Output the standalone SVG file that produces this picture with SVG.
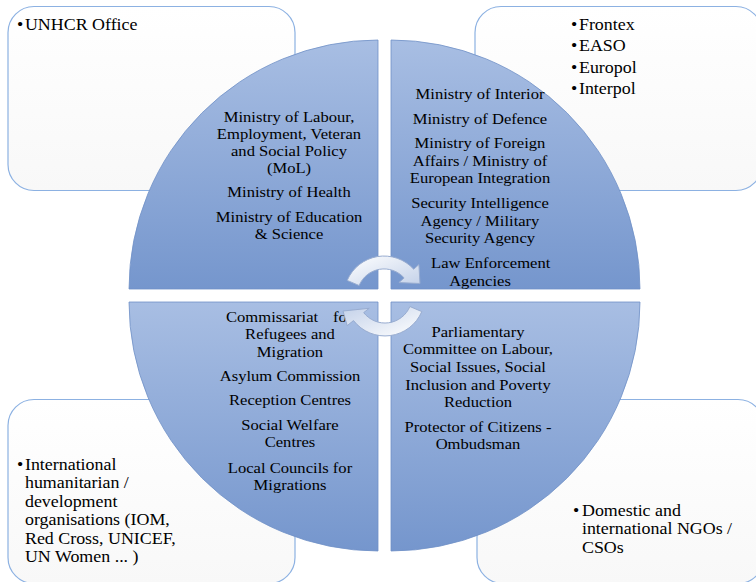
<svg xmlns="http://www.w3.org/2000/svg" width="756" height="582" viewBox="0 0 756 582">
  <defs>
    <linearGradient id="quadFill" x1="0" y1="0" x2="0" y2="1">
      <stop offset="0" stop-color="#a8bee3"/>
      <stop offset="1" stop-color="#7596cd"/>
    </linearGradient>
    <linearGradient id="boxFill" x1="0" y1="0" x2="0" y2="1">
      <stop offset="0" stop-color="#ffffff"/>
      <stop offset="1" stop-color="#f8f8f8"/>
    </linearGradient>
    <linearGradient id="arrowFill" x1="0" y1="0" x2="1" y2="1">
      <stop offset="0" stop-color="#ffffff"/>
      <stop offset="1" stop-color="#c3d1e9"/>
    </linearGradient>
  </defs>
  <style>
    .box { fill: url(#boxFill); stroke: #8cb1e2; stroke-width: 1.2; }
    .quad { fill: url(#quadFill); stroke: #7090c6; stroke-width: 0.8; }
    .qt { font-family: "Liberation Serif", "Times New Roman", serif; font-size: 15.5px; fill: #000; text-anchor: middle; }
    .qs { text-anchor: start; }
    .bt { font-family: "Liberation Serif", "Times New Roman", serif; font-size: 16px; fill: #000; }
    .arrow { fill: url(#arrowFill); stroke: #98acd0; stroke-width: 1; }
  </style>

  <rect width="756" height="582" fill="#ffffff"/>

  <!-- outer rounded boxes -->
  <g id="box-unhcr">
    <rect class="box" x="8" y="6.5" width="287" height="184" rx="26"/>
    <g transform="translate(17,0) scale(1.12,1)">
      <text class="bt" y="30"><tspan x="0">•</tspan><tspan x="7.1">UNHCR Office</tspan></text>
    </g>
  </g>

  <g id="box-eu-agencies">
    <rect class="box" x="475" y="6.5" width="287" height="184" rx="26"/>
    <g transform="translate(571,0) scale(1.12,1)">
      <text class="bt" y="30"><tspan x="0">•</tspan><tspan x="7.1">Frontex</tspan></text>
      <text class="bt" y="51.5"><tspan x="0">•</tspan><tspan x="7.1">EASO</tspan></text>
      <text class="bt" y="73"><tspan x="0">•</tspan><tspan x="7.1">Europol</tspan></text>
      <text class="bt" y="94.5"><tspan x="0">•</tspan><tspan x="7.1">Interpol</tspan></text>
    </g>
  </g>

  <g id="box-international">
    <rect class="box" x="8" y="399.5" width="287" height="184" rx="26"/>
    <g transform="translate(17,0) scale(1.12,1)">
      <text class="bt" y="470"><tspan x="0">•</tspan><tspan x="7.1">International</tspan></text>
      <text class="bt" x="7.1" y="488.5">humanitarian /</text>
      <text class="bt" x="7.1" y="507">development</text>
      <text class="bt" x="7.1" y="525.5">organisations (IOM,</text>
      <text class="bt" x="7.1" y="544">Red Cross, UNICEF,</text>
      <text class="bt" x="7.1" y="562.5">UN Women ... )</text>
    </g>
  </g>

  <g id="box-ngos">
    <rect class="box" x="477" y="399.5" width="287" height="184" rx="26"/>
    <g transform="translate(573,0) scale(1.12,1)">
      <text class="bt" y="516"><tspan x="0">•</tspan><tspan x="8">Domestic and</tspan></text>
      <text class="bt" x="8" y="534.5">international NGOs /</text>
      <text class="bt" x="8" y="553">CSOs</text>
    </g>
  </g>

  <!-- circle quadrants -->
  <g id="quad-ministries">
    <path class="quad" d="M378,289 L129,289 A249,249 0 0 1 378,40 Z"/>
    <g transform="translate(289,0) scale(1.07,1)">
      <text class="qt" x="0" y="122">Ministry of Labour,</text>
      <text class="qt" x="0" y="139">Employment, Veteran</text>
      <text class="qt" x="0" y="156">and Social Policy</text>
      <text class="qt" x="0" y="173">(MoL)</text>
      <text class="qt" x="0" y="197">Ministry of Health</text>
      <text class="qt" x="0" y="222">Ministry of Education</text>
      <text class="qt" x="0" y="239">&amp; Science</text>
    </g>
  </g>

  <g id="quad-security">
    <path class="quad" d="M391,289 L391,40 A249,249 0 0 1 640,289 Z"/>
    <g transform="translate(480,0) scale(1.07,1)">
      <text class="qt" x="0" y="99">Ministry of Interior</text>
      <text class="qt" x="0" y="124">Ministry of Defence</text>
      <text class="qt" x="0" y="148">Ministry of Foreign</text>
      <text class="qt" x="0" y="166">Affairs / Ministry of</text>
      <text class="qt" x="0" y="183">European Integration</text>
      <text class="qt" x="0" y="208">Security Intelligence</text>
      <text class="qt" x="0" y="226">Agency / Military</text>
      <text class="qt" x="0" y="243">Security Agency</text>
      <text class="qt" x="10" y="268">Law Enforcement</text>
      <text class="qt" x="0" y="286">Agencies</text>
    </g>
  </g>

  <g id="quad-migration">
    <path class="quad" d="M378,302 L378,551 A249,249 0 0 1 129,302 Z"/>
    <g transform="translate(290,0) scale(1.07,1)">
      <text class="qt qs" y="322"><tspan x="-59.8">Commissariat</tspan><tspan x="40.2">for</tspan></text>
      <text class="qt" x="0" y="339">Refugees and</text>
      <text class="qt" x="0" y="357">Migration</text>
      <text class="qt" x="0" y="381">Asylum Commission</text>
      <text class="qt" x="0" y="405">Reception Centres</text>
      <text class="qt" x="0" y="430">Social Welfare</text>
      <text class="qt" x="0" y="447">Centres</text>
      <text class="qt" x="0" y="473">Local Councils for</text>
      <text class="qt" x="0" y="490">Migrations</text>
    </g>
  </g>

  <g id="quad-oversight">
    <path class="quad" d="M391,302 L640,302 A249,249 0 0 1 391,551 Z"/>
    <g transform="translate(478,0) scale(1.07,1)">
      <text class="qt" x="0" y="337">Parliamentary</text>
      <text class="qt" x="0" y="354.5">Committee on Labour,</text>
      <text class="qt" x="0" y="372">Social Issues, Social</text>
      <text class="qt" x="0" y="390">Inclusion and Poverty</text>
      <text class="qt" x="0" y="407.5">Reduction</text>
      <text class="qt" x="0" y="432">Protector of Citizens -</text>
      <text class="qt" x="0" y="449.5">Ombudsman</text>
    </g>
  </g>

  <!-- circular cycle arrows in the centre: upper one turns clockwise to the right, lower one back to the left -->
  <g id="connectors">
    <path class="arrow" d="M347.2,280.4 A40,40 0 0 1 413.7,269.2 L418.9,264.6 L420,283.5 L398.9,282.6 L404.1,277.9 A27,27 0 0 0 359.1,285.5 Z"/>
    <path class="arrow" transform="rotate(180 384.5 296)" d="M347.2,280.4 A40,40 0 0 1 415.5,271.4 L421.8,266.4 L426,281 L399.8,283.7 L405.3,279.4 A27,27 0 0 0 359.1,285.5 Z"/>
  </g>
</svg>
